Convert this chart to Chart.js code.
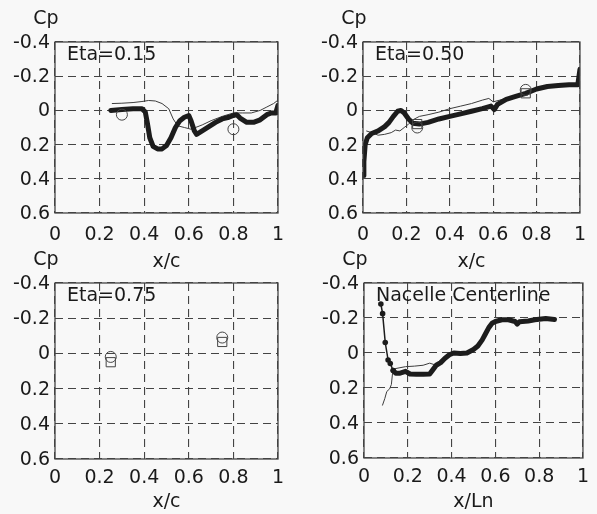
<!DOCTYPE html>
<html>
<head>
<meta charset="utf-8">
<script src="https://cdn.jsdelivr.net/npm/chart.js@4.4.1/dist/chart.umd.min.js"></script>
<style>
  body { margin: 0; background: #f8f8f8; }
  #wrap { position: relative; width: 597px; height: 514px; overflow: hidden; }
  canvas { position: absolute; }
</style>
</head>
<body>
<div id="wrap">
  <canvas id="c1" width="297" height="275" style="left:0;top:0"></canvas>
  <canvas id="c2" width="300" height="275" style="left:297px;top:0"></canvas>
  <canvas id="c3" width="297" height="274" style="left:0;top:240px"></canvas>
  <canvas id="c4" width="300" height="274" style="left:297px;top:240px"></canvas>
</div>
<script>
// axis ticks
var xTicks = [0, 0.2, 0.4, 0.6, 0.8, 1];
var xTickLabels = ['0', '0.2', '0.4', '0.6', '0.8', '1'];
var yTicks = [-0.4, -0.2, 0, 0.2, 0.4, 0.6];
var yTickLabels = ['-0.4', '-0.2', '0', '0.2', '0.4', '0.6'];
var yTitle = 'Cp';
var panelNames = ['Eta=0.15', 'Eta=0.50', 'Eta=0.75', 'Nacelle Centerline'];
var xTitles = ['x/c', 'x/c', 'x/c', 'x/Ln'];

// Eta = 0.15
var eta15ThickX = [0.25, 0.30, 0.35, 0.39, 0.405, 0.415, 0.425, 0.44, 0.46, 0.48, 0.50, 0.52, 0.54, 0.56, 0.58, 0.60, 0.61, 0.625, 0.635, 0.66, 0.69, 0.72, 0.75, 0.78, 0.80, 0.815, 0.83, 0.86, 0.89, 0.92, 0.95, 0.97, 0.99, 1.0];
var eta15ThickY = [0.00, -0.005, -0.01, -0.01, 0.01, 0.08, 0.16, 0.21, 0.225, 0.225, 0.205, 0.16, 0.10, 0.06, 0.04, 0.03, 0.06, 0.12, 0.14, 0.12, 0.095, 0.07, 0.05, 0.04, 0.03, 0.025, 0.045, 0.07, 0.07, 0.055, 0.025, 0.015, 0.015, -0.03];
var eta15ThinX = [0.255, 0.30, 0.35, 0.39, 0.42, 0.45, 0.48, 0.51, 0.53, 0.55, 0.58, 0.61, 0.63, 0.66, 0.70, 0.75, 0.80, 0.84, 0.88, 0.92, 0.95, 0.98, 1.0];
var eta15ThinY = [-0.04, -0.042, -0.046, -0.052, -0.058, -0.055, -0.04, -0.01, 0.05, 0.09, 0.10, 0.11, 0.10, 0.085, 0.06, 0.035, 0.015, 0.015, 0.015, 0.0, -0.02, -0.04, -0.06];
var eta15CircleX = [0.30, 0.80];
var eta15CircleY = [0.025, 0.11];

// Eta = 0.50
var eta50ThickX = [0.0, 0.004, 0.01, 0.02, 0.04, 0.07, 0.10, 0.12, 0.14, 0.16, 0.175, 0.19, 0.21, 0.23, 0.26, 0.30, 0.35, 0.40, 0.45, 0.50, 0.55, 0.59, 0.605, 0.62, 0.66, 0.70, 0.75, 0.80, 0.85, 0.90, 0.95, 0.99, 1.0];
var eta50ThickY = [0.38, 0.30, 0.20, 0.16, 0.135, 0.12, 0.095, 0.07, 0.035, 0.005, 0.0, 0.015, 0.05, 0.075, 0.08, 0.07, 0.05, 0.035, 0.02, 0.005, -0.01, -0.025, -0.005, -0.035, -0.065, -0.08, -0.10, -0.125, -0.14, -0.145, -0.15, -0.15, -0.24];
var eta50ThinX = [0.015, 0.04, 0.07, 0.10, 0.13, 0.15, 0.17, 0.19, 0.21, 0.23, 0.26, 0.30, 0.35, 0.40, 0.45, 0.50, 0.55, 0.58, 0.60, 0.63, 0.70, 0.75, 0.80, 0.90, 1.0];
var eta50ThinY = [0.12, 0.13, 0.145, 0.14, 0.13, 0.115, 0.12, 0.10, 0.08, 0.055, 0.035, 0.025, 0.01, -0.01, -0.025, -0.04, -0.06, -0.07, -0.05, -0.06, -0.085, -0.105, -0.125, -0.145, -0.155];
var eta50CircleX = [0.25, 0.75];
var eta50CircleY = [0.10, -0.12];
var eta50SquareX = [0.25, 0.75];
var eta50SquareY = [0.08, -0.10];

// Eta = 0.75
var eta75CircleX = [0.25, 0.75];
var eta75CircleY = [0.02, -0.09];
var eta75SquareX = [0.25, 0.75];
var eta75SquareY = [0.05, -0.065];

// Nacelle centerline
var nacThickX = [0.077, 0.085, 0.097, 0.11, 0.12, 0.133, 0.145, 0.165, 0.19, 0.21, 0.24, 0.27, 0.30, 0.315, 0.33, 0.35, 0.37, 0.39, 0.41, 0.44, 0.47, 0.50, 0.52, 0.54, 0.555, 0.57, 0.585, 0.60, 0.63, 0.66, 0.69, 0.70, 0.71, 0.75, 0.78, 0.83, 0.87];
var nacThickY = [-0.28, -0.225, -0.06, 0.04, 0.06, 0.10, 0.115, 0.115, 0.105, 0.12, 0.122, 0.122, 0.12, 0.095, 0.07, 0.055, 0.03, 0.01, 0.0, 0.003, 0.0, -0.02, -0.04, -0.075, -0.11, -0.145, -0.17, -0.18, -0.19, -0.19, -0.18, -0.165, -0.178, -0.183, -0.19, -0.197, -0.192];
var nacThinX = [0.084, 0.095, 0.104, 0.117, 0.125, 0.13, 0.14, 0.16, 0.19, 0.23, 0.27, 0.30, 0.33];
var nacThinY = [0.30, 0.26, 0.22, 0.205, 0.18, 0.12, 0.09, 0.085, 0.078, 0.075, 0.07, 0.058, 0.07];

function pts(xs, ys) {
  return xs.map(function (x, i) { return { x: x, y: ys[i] }; });
}

Chart.defaults.font.family = '"DejaVu Sans", sans-serif';
Chart.defaults.font.size = 19;
Chart.defaults.color = '#1a1a1a';

var frameAndText = {
  id: 'frameAndText',
  afterDraw: function (chart, args, opts) {
    var ctx = chart.ctx, a = chart.chartArea;
    ctx.save();
    ctx.strokeStyle = '#444';
    ctx.lineWidth = 1.3;
    ctx.strokeRect(a.left, a.top, a.right - a.left, a.bottom - a.top);
    ctx.font = '19px "DejaVu Sans", sans-serif';
    ctx.fillStyle = '#1a1a1a';
    ctx.textBaseline = 'alphabetic';
    ctx.textAlign = 'left';
    ctx.fillText(opts.label, a.left + 12, a.top + 18);
    ctx.textAlign = 'center';
    ctx.fillText(yTitle, a.left - 9, a.top - 18);
    ctx.restore();
  }
};

function thick(data) {
  return { data: data, showLine: true, borderColor: '#1c1c1c', borderWidth: 5,
    borderJoinStyle: 'round', borderCapStyle: 'round', pointRadius: 0, order: 1 };
}
function thin(data) {
  return { data: data, showLine: true, borderColor: '#3c3c3c', borderWidth: 1,
    pointRadius: 0, order: 2 };
}
function circles(data) {
  return { data: data, showLine: false, pointStyle: 'circle', pointRadius: 5.5,
    borderColor: '#444', backgroundColor: 'rgba(0,0,0,0)', borderWidth: 1, order: 0 };
}
function squares(data) {
  return { data: data, showLine: false, pointStyle: 'rect', pointRadius: 6.5,
    borderColor: '#444', backgroundColor: 'rgba(0,0,0,0)', borderWidth: 1, order: 0 };
}

function makeChart(id, g, idx, datasets) {
  new Chart(document.getElementById(id).getContext('2d'), {
    type: 'scatter',
    data: { datasets: datasets },
    options: {
      responsive: false,
      animation: false,
      devicePixelRatio: 1,
      layout: { padding: { left: 0, top: g.padTop, right: g.padRight, bottom: 0 } },
      plugins: {
        legend: { display: false },
        tooltip: { enabled: false },
        frameAndText: { label: panelNames[idx] }
      },
      scales: {
        x: {
          type: 'linear', min: 0, max: 1,
          afterBuildTicks: function (s) { s.ticks = xTicks.map(function (v) { return { value: v }; }); },
          afterFit: function (s) { s.height = g.xH; },
          ticks: { padding: g.xTickPad, maxRotation: 0, autoSkip: false,
            callback: function (v, i) { return xTickLabels[i]; } },
          grid: { color: '#444', lineWidth: 1.1, drawTicks: false },
          border: { display: false, dash: [8, 5] },
          title: { display: true, text: xTitles[idx], padding: { top: 0, bottom: g.titlePad } }
        },
        y: {
          type: 'linear', min: -0.4, max: 0.6, reverse: true,
          afterBuildTicks: function (s) { s.ticks = yTicks.map(function (v) { return { value: v }; }); },
          afterFit: function (s) { s.width = g.yW; },
          ticks: { padding: 5, labelOffset: 1, autoSkip: false,
            callback: function (v, i) { return yTickLabels[i]; } },
          grid: { color: '#444', lineWidth: 1.1, drawTicks: false },
          border: { display: false, dash: [8, 5] }
        }
      }
    },
    plugins: [frameAndText]
  });
}

makeChart('c1', { padTop: 42, padRight: 19, yW: 55, xH: 62, xTickPad: 11, titlePad: 1.2 }, 0, [
  thick(pts(eta15ThickX, eta15ThickY)),
  thin(pts(eta15ThinX, eta15ThinY)),
  circles(pts(eta15CircleX, eta15CircleY))
]);

makeChart('c2', { padTop: 42, padRight: 12, yW: 66, xH: 62, xTickPad: 11, titlePad: 1.2 }, 1, [
  thick(pts(eta50ThickX, eta50ThickY)),
  thin(pts(eta50ThinX, eta50ThinY)),
  circles(pts(eta50CircleX, eta50CircleY)),
  squares(pts(eta50SquareX, eta50SquareY))
]);

makeChart('c3', { padTop: 43, padRight: 19, yW: 55, xH: 55, xTickPad: 8, titlePad: 0.2 }, 2, [
  circles(pts(eta75CircleX, eta75CircleY)),
  squares(pts(eta75SquareX, eta75SquareY))
]);

var nacThick = thick(pts(nacThickX, nacThickY));
nacThick.pointRadius = function (c) { return c.dataIndex < 6 ? 2.8 : 0; };
nacThick.pointBackgroundColor = '#1c1c1c';
nacThick.pointBorderWidth = 0;
nacThick.segment = { borderWidth: function (c) { return c.p0DataIndex < 5 ? 1.5 : 5; } };

makeChart('c4', { padTop: 43, padRight: 11, yW: 67, xH: 56, xTickPad: 8, titlePad: 0.2 }, 3, [
  nacThick,
  thin(pts(nacThinX, nacThinY))
]);
</script>
</body>
</html>
